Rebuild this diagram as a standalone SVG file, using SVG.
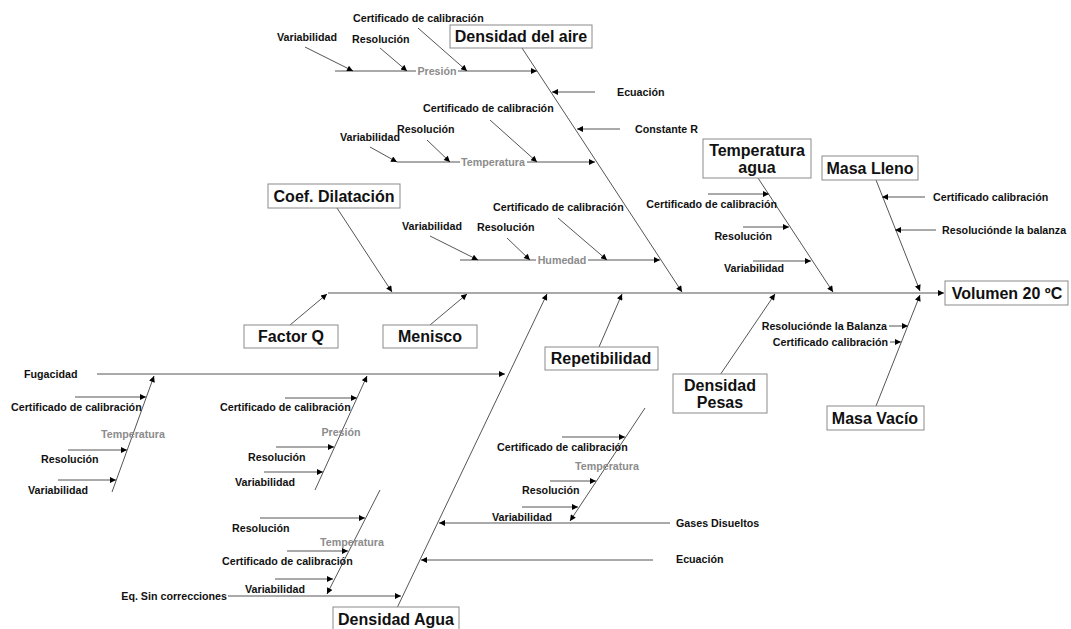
<svg xmlns="http://www.w3.org/2000/svg" width="1071" height="629" viewBox="0 0 1071 629">
<style>
.c line{stroke:#555;stroke-width:1;fill:none}
.c .a{marker-end:url(#ah)}
.box{fill:#fff;stroke:#8a8a8a;stroke-width:1}
.bt{font-family:"Liberation Sans",Arial,sans-serif;font-size:16px;font-weight:bold;fill:#111;text-anchor:middle}
.t{font-family:"Liberation Sans",Arial,sans-serif;font-size:10.7px;font-weight:bold;fill:#111}
.g{font-family:"Liberation Sans",Arial,sans-serif;font-size:10.7px;font-weight:bold;fill:#8c8c8c;text-anchor:middle}
.e{text-anchor:end}
.w{fill:#fff}
</style>
<defs>
<marker id="ah" viewBox="0 0 10 10" refX="10" refY="5" markerWidth="8" markerHeight="6" orient="auto" markerUnits="userSpaceOnUse">
<path d="M0,0 L10,5 L0,10 z" fill="#000"/>
</marker>
</defs>
<rect width="1071" height="629" fill="#fff"/>
<g id="connectors" class="c">
<line x1="328" y1="293" x2="920" y2="293"/>
<line class="a" x1="920" y1="293" x2="944" y2="293"/>
<line class="a" x1="522" y1="48" x2="682" y2="292"/>
<line class="a" x1="335" y1="71" x2="537" y2="71"/>
<line class="a" x1="305" y1="47" x2="353" y2="71"/>
<line class="a" x1="380" y1="48" x2="407" y2="71"/>
<line class="a" x1="418" y1="28" x2="467" y2="71"/>
<line class="a" x1="595" y1="92" x2="552" y2="92"/>
<line class="a" x1="620" y1="129" x2="577" y2="129"/>
<line class="a" x1="397" y1="162" x2="595" y2="162"/>
<line class="a" x1="370" y1="147" x2="397" y2="162"/>
<line class="a" x1="427" y1="140" x2="450" y2="162"/>
<line class="a" x1="490" y1="120" x2="537" y2="162"/>
<line class="a" x1="460" y1="260" x2="660" y2="260"/>
<line class="a" x1="430" y1="236" x2="478" y2="260"/>
<line class="a" x1="507" y1="238" x2="530" y2="260"/>
<line class="a" x1="558" y1="218" x2="607" y2="260"/>
<line class="a" x1="337" y1="208" x2="392" y2="292"/>
<line class="a" x1="290" y1="325" x2="327" y2="294"/>
<line class="a" x1="430" y1="325" x2="467" y2="294"/>
<line class="a" x1="599" y1="347" x2="622" y2="294"/>
<line class="a" x1="397" y1="608" x2="547" y2="294"/>
<line class="a" x1="97" y1="374" x2="505" y2="374"/>
<line class="a" x1="112" y1="492" x2="154" y2="376"/>
<line class="a" x1="75" y1="397" x2="146" y2="397"/>
<line class="a" x1="68" y1="450" x2="127" y2="450"/>
<line class="a" x1="58" y1="480" x2="116" y2="480"/>
<line class="a" x1="315" y1="490" x2="367" y2="376"/>
<line class="a" x1="285" y1="398" x2="357" y2="398"/>
<line class="a" x1="276" y1="447" x2="334" y2="447"/>
<line class="a" x1="264" y1="472" x2="323" y2="472"/>
<line class="a" x1="228" y1="596" x2="401" y2="596"/>
<line class="a" x1="380" y1="490" x2="327" y2="594"/>
<line class="a" x1="260" y1="518" x2="365" y2="518"/>
<line class="a" x1="287" y1="551" x2="348" y2="551"/>
<line class="a" x1="275" y1="579" x2="333" y2="579"/>
<line class="a" x1="670" y1="523" x2="439" y2="523"/>
<line class="a" x1="653" y1="560" x2="421" y2="560"/>
<line class="a" x1="645" y1="408" x2="570" y2="521"/>
<line class="a" x1="562" y1="437" x2="625" y2="437"/>
<line class="a" x1="550" y1="481" x2="596" y2="481"/>
<line class="a" x1="522" y1="507" x2="578" y2="507"/>
<line class="a" x1="758" y1="178" x2="833" y2="292"/>
<line class="a" x1="708" y1="194" x2="769" y2="194"/>
<line class="a" x1="743" y1="227" x2="789" y2="227"/>
<line class="a" x1="753" y1="261" x2="811" y2="261"/>
<line class="a" x1="720" y1="375" x2="775" y2="294"/>
<line class="a" x1="876" y1="180" x2="920" y2="291"/>
<line class="a" x1="925" y1="197" x2="882" y2="197"/>
<line class="a" x1="936" y1="230" x2="895" y2="230"/>
<line class="a" x1="876" y1="406" x2="920" y2="295"/>
<line class="a" x1="889" y1="326" x2="908" y2="326"/>
<line class="a" x1="890" y1="342" x2="901" y2="342"/>
</g>
<g id="labels">
<rect class="w" x="416" y="65" width="42" height="12"/>
<rect class="w" x="460" y="156" width="67" height="12"/>
<rect class="w" x="536" y="254" width="52" height="12"/>
<text class="t" x="353" y="22">Certificado de calibración</text>
<text class="t" x="277" y="41">Variabilidad</text>
<text class="t" x="352" y="43">Resolución</text>
<text class="g" x="437" y="75">Presión</text>
<text class="t" x="617" y="96">Ecuación</text>
<text class="t" x="635" y="133">Constante R</text>
<text class="t" x="423" y="112">Certificado de calibración</text>
<text class="t" x="397" y="133">Resolución</text>
<text class="t" x="340" y="141">Variabilidad</text>
<text class="g" x="493" y="166">Temperatura</text>
<text class="t" x="493" y="211">Certificado de calibración</text>
<text class="t" x="402" y="230">Variabilidad</text>
<text class="t" x="477" y="231">Resolución</text>
<text class="g" x="562" y="264">Humedad</text>
<text class="t e" x="777" y="208">Certificado de calibración</text>
<text class="t e" x="772" y="240">Resolución</text>
<text class="t e" x="784" y="272">Variabilidad</text>
<text class="t" x="933" y="201">Certificado calibración</text>
<text class="t" x="942" y="234">Resoluciónde la balanza</text>
<text class="t e" x="887" y="330">Resoluciónde la Balanza</text>
<text class="t e" x="888" y="346">Certificado calibración</text>
<text class="t" x="24" y="378">Fugacidad</text>
<text class="t" x="11" y="411">Certificado de calibración</text>
<text class="g" x="133" y="438">Temperatura</text>
<text class="t" x="41" y="463">Resolución</text>
<text class="t" x="28" y="494">Variabilidad</text>
<text class="t" x="220" y="411">Certificado de calibración</text>
<text class="g" x="341" y="436">Presión</text>
<text class="t" x="248" y="461">Resolución</text>
<text class="t" x="235" y="486">Variabilidad</text>
<text class="t" x="232" y="532">Resolución</text>
<text class="g" x="352" y="546">Temperatura</text>
<text class="t" x="222" y="565">Certificado de calibración</text>
<text class="t" x="245" y="593">Variabilidad</text>
<text class="t e" x="227" y="600">Eq. Sin correcciones</text>
<text class="t" x="497" y="451">Certificado de calibración</text>
<text class="g" x="607" y="470">Temperatura</text>
<text class="t" x="522" y="494">Resolución</text>
<text class="t" x="492" y="521">Variabilidad</text>
<text class="t" x="676" y="527">Gases Disueltos</text>
<text class="t" x="676" y="563">Ecuación</text>
</g>
<g id="densidad-aire"><rect class="box" x="450" y="25" width="142" height="23"/><text class="bt" x="521" y="42">Densidad del aire</text></g>
<g id="temperatura-agua"><rect class="box" x="703" y="139" width="108" height="39"/><text class="bt" x="757" y="156">Temperatura</text><text class="bt" x="757" y="173">agua</text></g>
<g id="masa-lleno"><rect class="box" x="822" y="156" width="96" height="24"/><text class="bt" x="870" y="174">Masa Lleno</text></g>
<g id="volumen"><rect class="box" x="945" y="281" width="123" height="24"/><text class="bt" x="1007" y="299">Volumen 20 ºC</text></g>
<g id="coef-dilatacion"><rect class="box" x="268" y="184" width="132" height="24"/><text class="bt" x="334" y="202">Coef. Dilatación</text></g>
<g id="factor-q"><rect class="box" x="244" y="325" width="94" height="23"/><text class="bt" x="291" y="342">Factor Q</text></g>
<g id="menisco"><rect class="box" x="383" y="325" width="94" height="23"/><text class="bt" x="430" y="342">Menisco</text></g>
<g id="repetibilidad"><rect class="box" x="545" y="347" width="113" height="23"/><text class="bt" x="601" y="364">Repetibilidad</text></g>
<g id="densidad-pesas"><rect class="box" x="673" y="374" width="94" height="39"/><text class="bt" x="720" y="391">Densidad</text><text class="bt" x="720" y="408">Pesas</text></g>
<g id="masa-vacio"><rect class="box" x="827" y="406" width="97" height="24"/><text class="bt" x="875" y="424">Masa Vacío</text></g>
<g id="densidad-agua"><rect class="box" x="333" y="607" width="126" height="26"/><text class="bt" x="396" y="625">Densidad Agua</text></g>
</svg>
